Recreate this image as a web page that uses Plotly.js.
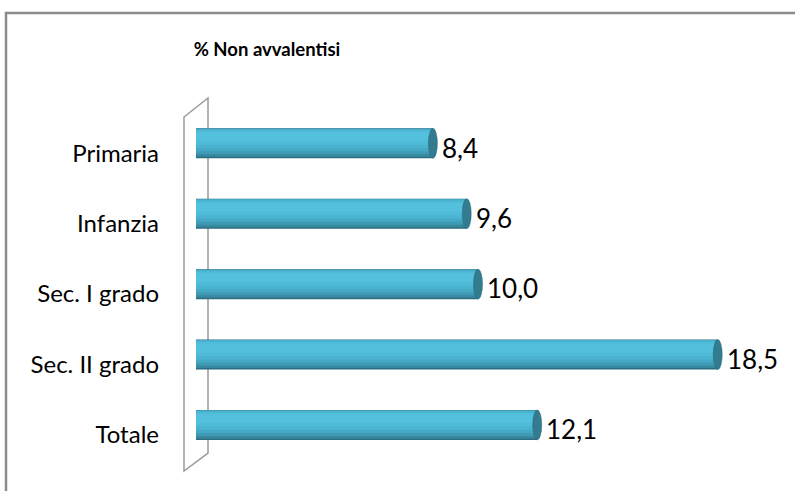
<!DOCTYPE html>
<html>
<head>
<meta charset="utf-8">
<script src="https://cdn.plot.ly/plotly-3.0.1.min.js"></script>
<style>html,body{margin:0;padding:0;background:#fff;}#chart{width:795px;height:491px;}</style>
</head>
<body>
<div id="chart"></div>
<script>
// ---- data ----
const categories = ["Primaria", "Infanzia", "Sec. I grado", "Sec. II grado", "Totale"];
const values = [8.4, 9.6, 10.0, 18.5, 12.1];
const titleText = "% Non avvalentisi";

// ---- geometry helpers (layout only) ----
const W = 795, H = 491;
const M = {l: 196, r: 35, t: 118, b: 21};
const PW = W - M.l - M.r, PH = H - M.t - M.b;
const xp = px => (px - M.l) / PW;
const yp = py => (H - M.b - py) / PH;
const unit = 70.4; // px per category

const pos = categories.map((c, i) => i);
const fmt = v => v.toFixed(1).replace('.', ',');

function band(color, topPx, hPx) {
  return {
    type: 'bar', orientation: 'h', x: values, y: pos,
    offset: -0.353 + topPx / unit, width: hPx / unit,
    marker: {color: color, line: {width: 0}},
    hoverinfo: 'skip', showlegend: false
  };
}

// cylinder shading built from stacked bands
const traces = [
  band('#2b6e81', 0, 30),
  band('#3889a0', 0.5, 28),
  band('#3f9bb5', 0.5, 25.5),
  band('#45a9c5', 0.5, 22.5),
  band('#4ab3cf', 1, 19),
  band('#4fbbd8', 2.5, 14),
  band('#53c0dd', 4, 9)
];

const shapes = [];
// outer frame
shapes.push({type: 'rect', xref: 'paper', yref: 'paper', layer: 'below',
  x0: xp(6), y0: yp(13), x1: xp(830), y1: yp(530),
  line: {color: '#8c8c8c', width: 2.5}, fillcolor: 'rgba(0,0,0,0)'});
// 3D wall
shapes.push({type: 'path', xref: 'paper', yref: 'paper', layer: 'below',
  path: `M ${xp(184)},${yp(117)} L ${xp(208)},${yp(98)} L ${xp(208)},${yp(453)} L ${xp(184)},${yp(471)} Z`,
  line: {color: '#9a9a9a', width: 1.5}, fillcolor: 'rgba(255,255,255,0)'});
// left rounded starts and right end caps of cylinders
values.forEach((v, i) => {
  const yc = i - 0.14, hh = 15 / unit;
  shapes.push({type: 'circle', xref: 'x', yref: 'y', layer: 'below',
    x0: -0.16, x1: 0.16, y0: yc - hh, y1: yc + hh,
    fillcolor: '#45a9c5', line: {width: 0}});
  shapes.push({type: 'circle', xref: 'x', yref: 'y', layer: 'above',
    x0: v - 0.16, x1: v + 0.16, y0: yc - hh, y1: yc + hh,
    fillcolor: '#337b8e', line: {color: '#2a6a7c', width: 0.5}});
});

const annotations = values.map((v, i) => ({
  x: v, y: i - 0.08, xref: 'x', yref: 'y', text: fmt(v),
  showarrow: false, xanchor: 'left', yanchor: 'middle', xshift: 7,
  font: {family: 'Lato, sans-serif', size: 26, color: '#000'}
}));

const layout = {
  width: W, height: H,
  margin: M,
  paper_bgcolor: '#fff', plot_bgcolor: 'rgba(0,0,0,0)',
  barmode: 'overlay',
  title: {text: '<b>' + titleText + '</b>', x: 267 / W, xanchor: 'center', xref: 'container',
    y: 1 - 50 / H, yanchor: 'middle', yref: 'container',
    font: {family: 'Lato, sans-serif', size: 18.5, color: '#000'}},
  xaxis: {range: [0, PW / 28.2], visible: false, fixedrange: true},
  yaxis: {range: [4.5, -0.5], tickmode: 'array', tickvals: pos, ticktext: categories,
    showgrid: false, zeroline: false, showline: false, ticks: '',
    ticklabelstandoff: 36,
    tickfont: {family: 'Lato, sans-serif', size: 24, color: '#000'}},
  shapes: shapes,
  annotations: annotations,
  showlegend: false
};

Plotly.newPlot('chart', traces, layout, {displayModeBar: false, staticPlot: true});
</script>
</body>
</html>
